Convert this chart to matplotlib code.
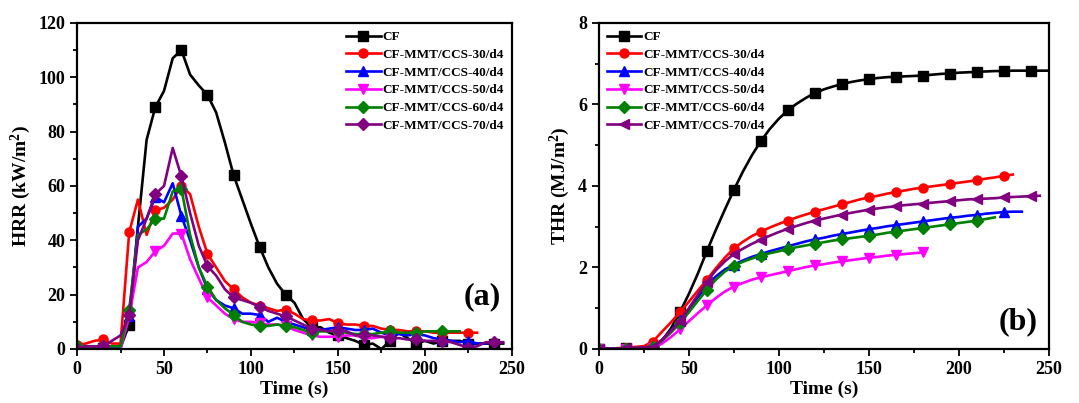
import numpy as np
import matplotlib
matplotlib.use('Agg')
import matplotlib.pyplot as plt
from matplotlib.ticker import MultipleLocator

plt.rcParams['font.family'] = ['Liberation Serif', 'DejaVu Serif']
plt.rcParams['font.weight'] = 'bold'
plt.rcParams['mathtext.fontset'] = 'custom'
plt.rcParams['mathtext.rm'] = 'Liberation Serif:bold'
plt.rcParams['mathtext.default'] = 'rm'

labels = ['CF', 'CF-MMT/CCS-30/d4', 'CF-MMT/CCS-40/d4',
          'CF-MMT/CCS-50/d4', 'CF-MMT/CCS-60/d4', 'CF-MMT/CCS-70/d4']
colors = ['#000000', '#ff0000', '#0000ff', '#ff00ff', '#008000', '#800080']
markers_a = ['s', 'o', '^', 'v', 'D', 'D']
markers_b = ['s', 'o', '^', 'v', 'D', '<']

# HRR (kW/m2), sampled every 5 s
hrr_cf = [0.5, 0.5, 0.5, 0.5, 0.5, 0.5, 9, 45, 77, 89, 95, 107, 110, 101, 97, 93.5,
          87, 76, 64, 55, 46, 37.5, 30, 24, 20, 17, 11, 8, 8, 6, 5, 4, 3, 1.5, 2, 0,
          3, 6, 4, 2, 3, 2, 3, 3, 3, 2, 2, 2, 2, 2]
hrr_30 = [1.5, 2, 3, 3.5, 2, 2, 43, 55, 42, 51, 52, 55, 60, 57, 45, 35, 30, 25, 22,
          19, 17, 16, 15, 14, 14.5, 13, 11, 10.5, 10.5, 11, 9.5, 9, 9, 8.5, 8.5, 7.5,
          7, 7, 6.5, 6.5, 6.5, 6, 6, 6, 6, 6, 6]
hrr_40 = [0.5, 0.5, 0.5, 0.5, 0.5, 1, 12, 45, 48, 56, 54, 61, 49, 40, 30, 22, 18, 16,
          15, 13, 13, 12.5, 10, 11.5, 10, 9, 8, 7, 7, 7.5, 8, 7.5, 7, 7, 7.5, 6, 5,
          5.5, 5, 5.5, 5, 4, 3.5, 3, 2.5, 3, 2, 2]
hrr_50 = [0, 0, 0, 0, 0, 0, 12, 30, 32, 36, 38, 42.5, 42.5, 33, 26, 19, 16, 13, 11,
          10, 10, 9.5, 9, 9, 8.5, 7, 6, 5, 4.5, 4.5, 4.5, 5, 5, 4, 4, 4.5, 4.5]
hrr_60 = [1, 1, 1, 1, 1, 1, 14.5, 42, 44, 48, 48, 58, 59, 42, 30, 23, 18, 15, 12.5,
          10, 9, 8.5, 8.5, 9, 8.5, 8, 7, 6, 6.5, 6.5, 6.5, 6, 5.5, 5.5, 5.5, 6, 6.5,
          6, 6, 6, 6.5, 6.5, 6.5, 6.5, 6.5]
hrr_70 = [0, 1, 1, 1, 3, 5, 12.5, 40, 48, 57, 60, 74, 63.5, 50, 38, 30.5, 27, 22, 19,
          18, 17, 15.5, 14, 13, 12, 10.5, 9, 7.5, 7, 6.5, 7, 6.5, 5, 5, 5, 4.5, 4, 4,
          3.5, 3.5, 3, 3, 3, 2.5, 1.5, 0.5, 1, 2.5, 2.5, 2.5]

# THR (MJ/m2), sampled every 5 s
thr_cf = [0, 0, 0.01, 0.02, 0.02, 0.03, 0.05, 0.2, 0.5, 0.9, 1.35, 1.85, 2.4, 2.92,
          3.42, 3.9, 4.35, 4.75, 5.1, 5.4, 5.65, 5.86, 6.02, 6.16, 6.28, 6.37, 6.44,
          6.5, 6.55, 6.59, 6.62, 6.65, 6.67, 6.68, 6.69, 6.7, 6.71, 6.73, 6.75, 6.76,
          6.78, 6.79, 6.8, 6.81, 6.82, 6.82, 6.83, 6.83, 6.83, 6.83, 6.83]
thr_30 = [0, 0.01, 0.02, 0.03, 0.05, 0.07, 0.18, 0.42, 0.65, 0.9, 1.16, 1.43, 1.7,
          1.98, 2.24, 2.47, 2.63, 2.77, 2.88, 2.98, 3.07, 3.15, 3.23, 3.3, 3.37, 3.43,
          3.49, 3.55, 3.61, 3.67, 3.72, 3.76, 3.81, 3.85, 3.89, 3.93, 3.96, 3.99, 4.02,
          4.05, 4.08, 4.11, 4.14, 4.18, 4.21, 4.25, 4.28]
thr_40 = [0, 0, 0.01, 0.01, 0.02, 0.03, 0.05, 0.22, 0.45, 0.7, 0.98, 1.27, 1.55, 1.78,
          1.95, 2.07, 2.17, 2.26, 2.33, 2.4, 2.46, 2.52, 2.58, 2.64, 2.69, 2.73, 2.78,
          2.82, 2.86, 2.9, 2.94, 2.97, 3.01, 3.04, 3.07, 3.1, 3.13, 3.16, 3.19, 3.22,
          3.24, 3.27, 3.29, 3.32, 3.34, 3.36, 3.37, 3.37]
thr_50 = [0, 0, 0, 0.01, 0.01, 0.01, 0.02, 0.13, 0.29, 0.48, 0.68, 0.88, 1.07, 1.25,
          1.41, 1.53, 1.62, 1.7, 1.76, 1.81, 1.86, 1.91, 1.96, 2.01, 2.05, 2.08, 2.12,
          2.15, 2.18, 2.21, 2.24, 2.26, 2.29, 2.31, 2.33, 2.35, 2.37]
thr_60 = [0, 0, 0.01, 0.01, 0.02, 0.03, 0.05, 0.2, 0.4, 0.63, 0.9, 1.18, 1.45, 1.7,
          1.9, 2.04, 2.14, 2.22, 2.29, 2.35, 2.4, 2.45, 2.5, 2.54, 2.58, 2.62, 2.66,
          2.69, 2.72, 2.75, 2.78, 2.81, 2.85, 2.88, 2.91, 2.94, 2.97, 3.0, 3.03, 3.06,
          3.09, 3.12, 3.15, 3.19, 3.23]
thr_70 = [0, 0.01, 0.01, 0.02, 0.03, 0.04, 0.05, 0.22, 0.44, 0.68, 1.0, 1.33, 1.65,
          1.93, 2.15, 2.33, 2.46, 2.58, 2.68, 2.78, 2.87, 2.95, 3.02, 3.09, 3.15, 3.2,
          3.25, 3.3, 3.34, 3.38, 3.42, 3.45, 3.48, 3.5, 3.53, 3.55, 3.57, 3.59, 3.61,
          3.63, 3.65, 3.67, 3.68, 3.69, 3.7, 3.72, 3.73, 3.74, 3.75, 3.76]

hrr = [hrr_cf, hrr_30, hrr_40, hrr_50, hrr_60, hrr_70]
thr = [thr_cf, thr_30, thr_40, thr_50, thr_60, thr_70]

fig = plt.figure(figsize=(10.79, 4.03), dpi=100)
ax1 = fig.add_axes([0.0714, 0.134, 0.403, 0.809])
ax2 = fig.add_axes([0.555, 0.134, 0.417, 0.809])


def style(ax, ymax, ymaj, ymin, ylabel, tag, tag_y):
    ax.set_xlim(0, 250)
    ax.set_ylim(0, ymax)
    ax.xaxis.set_major_locator(MultipleLocator(50))
    ax.xaxis.set_minor_locator(MultipleLocator(25))
    ax.yaxis.set_major_locator(MultipleLocator(ymaj))
    ax.yaxis.set_minor_locator(MultipleLocator(ymin))
    ax.tick_params(which='both', direction='out', top=False, right=False,
                   labelsize=13, width=1.3)
    ax.tick_params(which='major', length=5)
    ax.tick_params(which='minor', length=3)
    for s in ax.spines.values():
        s.set_linewidth(1.6)
    ax.set_xlabel('Time (s)', fontsize=14, fontweight='bold', labelpad=2)
    ax.set_ylabel(ylabel, fontsize=14, fontweight='bold', labelpad=4)
    ax.text(0.975, tag_y, tag, transform=ax.transAxes, ha='right', va='bottom',
            fontsize=23, fontweight='bold')


for i in range(6):
    t = np.arange(len(hrr[i])) * 5
    ax1.plot(t, hrr[i], color=colors[i], lw=1.9, marker=markers_a[i], ms=6.5,
             markevery=3, label=labels[i])
    t = np.arange(len(thr[i])) * 5
    ax2.plot(t, thr[i], color=colors[i], lw=1.9, marker=markers_b[i], ms=6.5,
             markevery=3, label=labels[i])

style(ax1, 120, 20, 10, r'HRR (kW/m$^2$)', '(a)', 0.115)
style(ax2, 8, 2, 1, r'THR (MJ/m$^2$)', '(b)', 0.04)

ax1.legend(loc='upper right', frameon=False, fontsize=9.5, handlelength=2.6,
           handletextpad=0.15, labelspacing=0.42, borderaxespad=0.2,
           bbox_to_anchor=(1.0, 1.0))
ax2.legend(loc='upper left', frameon=False, fontsize=9.5, handlelength=2.6,
           handletextpad=0.15, labelspacing=0.42, borderaxespad=0.2)

fig.savefig('out.png', dpi=100)
